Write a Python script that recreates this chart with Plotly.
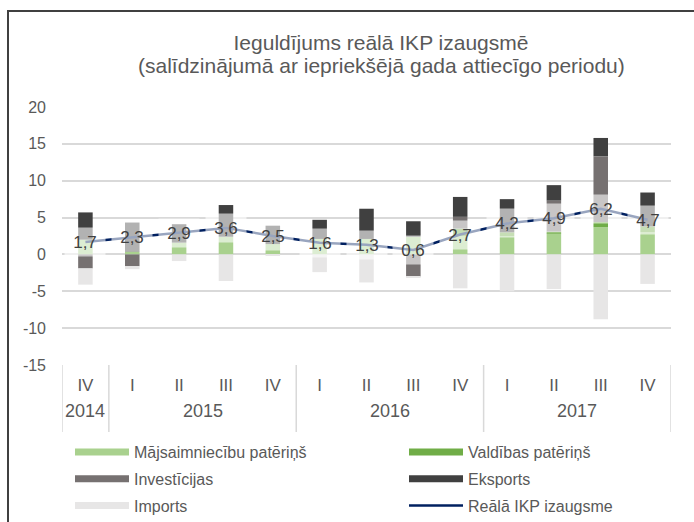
import plotly.graph_objects as go

years = ["2014", "2015", "2015", "2015", "2015", "2016", "2016", "2016", "2016", "2017", "2017", "2017", "2017"]
quarters = ["IV", "I", "II", "III", "IV", "I", "II", "III", "IV", "I", "II", "III", "IV"]

majsaimniecibu = [2.0, 0.4, 1.6, 2.4, 1.4, 2.1, 2.1, 2.4, 2.5, 2.5, 2.8, 3.7, 3.0]
valdibas = [0.0, 0.0, 0.0, 0.0, 0.0, 0.0, 0.0, 0.0, 1.0, 0.5, 0.3, 0.7, 0.8]
investicijas = [-1.9, -1.6, 0.0, 0.0, 0.0, 0.0, 0.0, -3.0, 1.6, 0.0, 4.2, 8.9, 0.0]
eksports = [3.7, 3.9, 2.5, 4.3, 2.5, 2.6, 4.1, 2.1, 2.7, 4.5, 2.1, 2.5, 4.6]
imports = [-2.2, -0.4, -0.9, -3.6, -0.2, -2.4, -3.8, -0.2, -4.6, -5.0, -4.7, -8.8, -4.0]
ikp = [1.7, 2.3, 2.9, 3.6, 2.5, 1.6, 1.3, 0.6, 2.7, 4.2, 4.9, 6.2, 4.7]

y_ticks = [-15, -10, -5, 0, 5, 10, 15, 20]

title_line1 = "Ieguldījums reālā IKP izaugsmē"
title_line2 = "(salīdzinājumā ar iepriekšējā gada attiecīgo periodu)"

names = ["Mājsaimniecību patēriņš", "Valdības patēriņš", "Investīcijas", "Eksports", "Imports"]
colors = ["#a9d18e", "#70ad47", "#767171", "#404040", "#e7e6e6"]
series = [majsaimniecibu, valdibas, investicijas, eksports, imports]
line_name = "Reālā IKP izaugsme"
line_color = "#002060"

FONT = "Liberation Sans, Arial, sans-serif"
TXT = "#595959"
GRID = "#d9d9d9"

idx = list(range(len(quarters)))
fig = go.Figure()
for nm, col, vals in zip(names, colors, series):
    fig.add_trace(go.Bar(x=idx, y=vals, name=nm, marker=dict(color=col, line=dict(width=0)),
                         showlegend=False, hoverinfo="skip"))
fig.add_trace(go.Scatter(x=idx, y=ikp, mode="lines", line=dict(color=line_color, width=2.5),
                         showlegend=False, name=line_name))

# legend entries (two columns)
legend_of = ["legend", "legend2", "legend", "legend2", "legend"]
for i, (nm, col) in enumerate(zip(names, colors)):
    fig.add_trace(go.Scatter(x=[None], y=[None], mode="lines", name=nm,
                             line=dict(color=col, width=7), xaxis="x2", yaxis="y2",
                             legend=legend_of[i], legendgroup=nm))
fig.add_trace(go.Scatter(x=[None], y=[None], mode="lines", name=line_name,
                         line=dict(color=line_color, width=2.5), xaxis="x2", yaxis="y2",
                         legend="legend2", legendgroup=line_name))

for i, v in zip(idx, ikp):
    fig.add_annotation(x=i, y=v, xref="x", yref="y", text=f"{v:.1f}".replace(".", ","),
                       showarrow=False, font=dict(family=FONT, size=17, color="#404040"),
                       bgcolor="rgba(255,255,255,0.6)", width=38, height=26, borderpad=1,
                       xanchor="center", yanchor="middle")

L, R, T, B = 62, 23, 107, 157
W, H = 694, 522
pw, ph = W - L - R, H - T - B
def px_x(p):
    return (p - L) / pw
def px_y(p):
    return (H - B - p) / ph

# second title line
fig.add_annotation(x=381 / W, xref="paper", y=px_y(66), yref="paper", text=title_line2,
                   showarrow=False, font=dict(family=FONT, size=21, color=TXT),
                   xanchor="center", yanchor="middle")
fig.layout.annotations[-1].update(x=px_x(381))

# year group labels and dividers
groups = []
for i, yr in enumerate(years):
    if groups and groups[-1][0] == yr:
        groups[-1][2] = i
    else:
        groups.append([yr, i, i])
bounds = set()
for yr, a, b in groups:
    fig.add_annotation(x=(a + b) / 2, xref="x", y=px_y(411), yref="paper", text=yr,
                       showarrow=False, font=dict(family=FONT, size=18, color=TXT),
                       xanchor="center", yanchor="middle")
    bounds.add(a - 0.5)
    bounds.add(b + 0.5)
for bx in sorted(bounds):
    fig.add_shape(type="line", xref="x", yref="paper", x0=bx, x1=bx, y0=px_y(432), y1=0,
                  line=dict(color=GRID, width=1.5))

fig.add_shape(type="rect", xref="paper", yref="paper",
              x0=px_x(8), x1=px_x(702), y0=px_y(535), y1=px_y(11),
              line=dict(color="#404040", width=2), fillcolor="rgba(0,0,0,0)")

leg_common = dict(orientation="v", yanchor="top", xanchor="left", bgcolor="rgba(0,0,0,0)",
                  font=dict(family=FONT, size=16, color=TXT), itemwidth=54,
                  tracegroupgap=3, traceorder="grouped")

fig.update_layout(
    width=W, height=H,
    margin=dict(l=L, r=R, t=T, b=B, autoexpand=False),
    paper_bgcolor="white", plot_bgcolor="white",
    barmode="relative", bargap=0.69,
    font=dict(family=FONT, color=TXT),
    title=dict(text=title_line1,
               x=381 / W, xanchor="center", xref="container", y=1 - 43 / H, yanchor="middle",
               yref="container", font=dict(family=FONT, size=21, color=TXT)),
    xaxis=dict(range=[-0.5, len(quarters) - 0.5], tickvals=idx, ticktext=quarters,
               showgrid=False, showline=False, zeroline=False, ticks="",
               tickfont=dict(family=FONT, size=17, color=TXT), ticklabelstandoff=8),
    yaxis=dict(range=[y_ticks[0], y_ticks[-1]], tickvals=y_ticks,
               ticktext=[str(t) for t in y_ticks], showgrid=True,
               gridcolor=GRID, gridwidth=1.5, zeroline=False, showline=False,
               tickfont=dict(family=FONT, size=16, color=TXT), ticklabelstandoff=15),
    xaxis2=dict(visible=False, overlaying="x", range=[0, 1]),
    yaxis2=dict(visible=False, overlaying="y", range=[0, 1]),
    legend=dict(x=px_x(70), y=px_y(435), **leg_common),
    legend2=dict(x=px_x(404), y=px_y(435), **leg_common),
    showlegend=True,
)

fig.write_html("out.html", config={"displayModeBar": False},
               post_script="document.body.style.margin='0';")
